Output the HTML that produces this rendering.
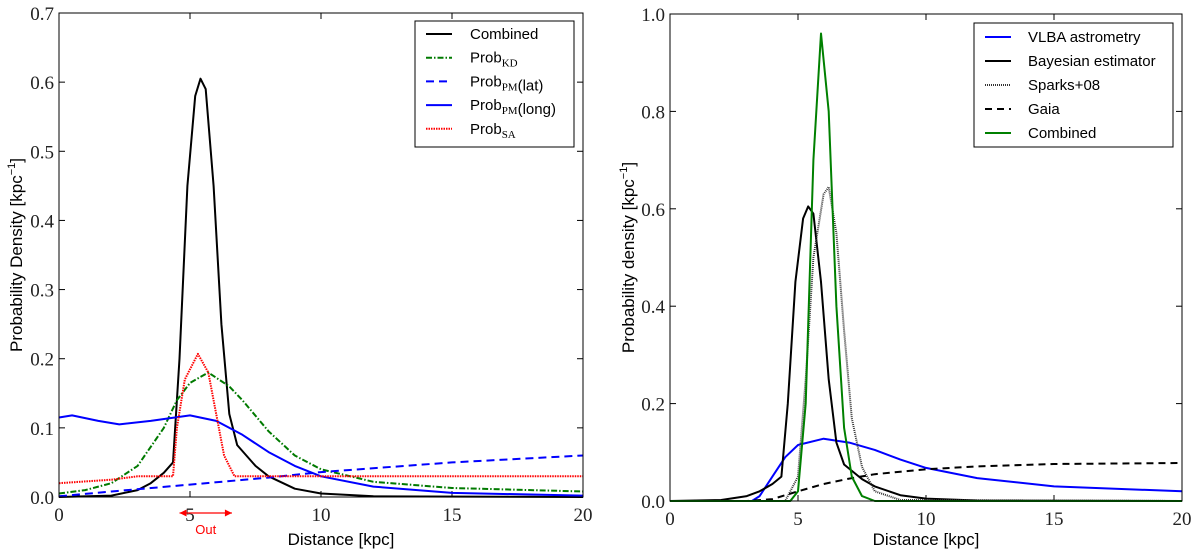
<!DOCTYPE html>
<html><head><meta charset="utf-8"><style>
body{margin:0;background:#fff}
svg{display:block}
.tick{font-family:"Liberation Serif",serif;font-size:19px;fill:#222}
.lab{font-family:"Liberation Sans",sans-serif;font-size:17px;fill:#000}
.leg{font-family:"Liberation Sans",sans-serif;font-size:15px;fill:#000}
</style></head><body>
<svg id="fig" width="1200" height="553" viewBox="0 0 1200 553"></svg>
<script>
// Left panel data
const lCombX=[0,2,3,3.5,4,4.35,4.6,4.9,5.2,5.4,5.6,5.9,6.2,6.5,6.8,7.5,8,9,10,12,20];
const lCombY=[0,0.002,0.01,0.02,0.035,0.05,0.2,0.45,0.58,0.605,0.59,0.45,0.25,0.12,0.075,0.045,0.03,0.012,0.005,0.001,0];
const lKDX=[0,1,2,3,4,4.5,5,5.7,6.5,7,8,9,10,12,15,20];
const lKDY=[0.005,0.01,0.02,0.045,0.1,0.14,0.165,0.18,0.16,0.14,0.095,0.06,0.04,0.022,0.013,0.008];
const lLatX=[0,2,5,8,10,15,20];
const lLatY=[0.001,0.008,0.018,0.028,0.036,0.05,0.06];
const lLongX=[0,0.5,1.5,2.3,3.5,5,6,7,8,9,10,12,15,20];
const lLongY=[0.115,0.118,0.11,0.105,0.11,0.118,0.11,0.09,0.065,0.045,0.03,0.015,0.006,0.002];
const lSAX=[0,2,3,4.35,4.5,4.8,5.3,5.7,6,6.3,6.7,20];
const lSAY=[0.02,0.025,0.03,0.03,0.1,0.17,0.207,0.18,0.12,0.06,0.03,0.03];
// Right panel data
const rVlbaX=[0,3.2,3.5,4,4.5,5,6,7,8,9,10,12,15,20];
const rVlbaY=[0,0,0.01,0.05,0.09,0.115,0.128,0.12,0.105,0.085,0.068,0.047,0.03,0.02];
const rSparksX=[0,4.5,5,5.3,5.6,6,6.2,6.5,6.8,7.1,7.5,8,9,20];
const rSparksY=[0,0,0.05,0.25,0.5,0.63,0.645,0.55,0.35,0.17,0.07,0.02,0.002,0];
const rGaiaX=[0,3,4,5,6,7,8,10,12,15,20];
const rGaiaY=[0,0,0.004,0.02,0.035,0.046,0.055,0.065,0.071,0.076,0.078];
const rCombX=[0,4.7,5,5.3,5.6,5.9,6.2,6.5,6.8,7.1,7.5,8,20];
const rCombY=[0,0,0.02,0.2,0.7,0.96,0.8,0.4,0.15,0.05,0.01,0,0];
const xTicks=[0,5,10,15,20];
const lYTicks=[0,0.1,0.2,0.3,0.4,0.5,0.6,0.7];
const rYTicks=[0,0.2,0.4,0.6,0.8,1.0];

const NS="http://www.w3.org/2000/svg";
const svg=document.getElementById('fig');
function mk(tag,attrs,parent){const e=document.createElementNS(NS,tag);for(const k in attrs)e.setAttribute(k,attrs[k]);(parent||svg).appendChild(e);return e;}

function panel(P){
  const g=mk('g',{});
  
  
  const sx=v=>P.x0+(P.x1-P.x0)*v/20;
  const sy=v=>P.y0-(P.y0-P.y1)*v/P.ymax;
  xTicks.forEach(t=>{
    const X=sx(t);
    mk('line',{x1:X,x2:X,y1:P.y0,y2:P.y0-6,stroke:'#000','stroke-width':1},g);
    mk('line',{x1:X,x2:X,y1:P.y1,y2:P.y1+6,stroke:'#000','stroke-width':1},g);
    const tx=mk('text',{x:X,y:P.y0+24,'text-anchor':'middle',class:'tick'},g);
    tx.textContent=t;
    
    
  });
  P.yt.forEach(t=>{
    const Y=sy(t);
    mk('line',{x1:P.x0,x2:P.x0+6,y1:Y,y2:Y,stroke:'#000','stroke-width':1},g);
    mk('line',{x1:P.x1,x2:P.x1-6,y1:Y,y2:Y,stroke:'#000','stroke-width':1},g);
    const tx=mk('text',{x:P.x0-5,y:Y+7,'text-anchor':'end',class:'tick'},g);
    tx.textContent=t.toFixed(1);
    
    
  });
  P.series.forEach(s=>{
    const pts=s.x.map((v,i)=>sx(v).toFixed(1)+','+sy(s.y[i]).toFixed(1)).join(' ');
    const pl=mk('polyline',{points:pts,fill:'none',stroke:s.c,'stroke-width':s.w||2,'stroke-dasharray':s.d||'none','stroke-linejoin':'round'},g);
    
    
  });
  const fr=mk('rect',{x:P.x0,y:P.y1,width:P.x1-P.x0,height:P.y0-P.y1,fill:'none',stroke:'#000','stroke-width':1},g);
  
  
  const xl=mk('text',{x:(P.x0+P.x1)/2+P.xlOff,y:545,'text-anchor':'middle',class:'lab'},g);
  xl.textContent='Distance [kpc]';
  
  
  const yl=mk('text',{transform:`translate(${P.ylx},${(P.y0+P.y1)/2}) rotate(-90)`,'text-anchor':'middle',class:'lab'},g);
  yl.innerHTML=P.ylab;
  
  
  const L=P.leg;
  const lb=mk('rect',{x:L.x,y:L.y,width:L.w,height:L.h,fill:'#fff',stroke:'#000','stroke-width':1},g);
  
  
  P.series.forEach((s,i)=>{
    const Y=L.y+L.first+i*L.step;
    mk('line',{x1:L.x+11,x2:L.x+37,y1:Y,y2:Y,stroke:s.c,'stroke-width':s.w||2,'stroke-dasharray':s.d||'none'},g);
    const t=mk('text',{x:L.x+L.tx,y:Y+5,class:'leg'},g);
    t.innerHTML=s.lab;
    
    
  });
  return {sx,sy,g};
}
const sub=s=>`Prob<tspan font-family="Liberation Serif" font-size="11" dy="4">${s}</tspan><tspan dy="-4"></tspan>`;
const L=panel({name:'left-panel',x0:59,x1:583,y0:497,y1:13,ymax:0.7,yt:lYTicks,xlOff:20,ylx:22,
  ylab:'Probability Density [kpc<tspan font-size="11" dy="-7">−1</tspan><tspan dy="7">]</tspan>',
  leg:{x:415,y:21,w:159,h:126,tx:55,first:13,step:23.7},
  series:[
    {n:'combined-line',x:lCombX,y:lCombY,c:'#000',lab:'Combined'},
    {n:'prob-kd-line',x:lKDX,y:lKDY,c:'#007a00',d:'6,2,1.5,2',lab:sub('KD')},
    {n:'prob-pm-lat-line',x:lLatX,y:lLatY,c:'#0000ff',d:'8,5',lab:sub('PM')+'(lat)'},
    {n:'prob-pm-long-line',x:lLongX,y:lLongY,c:'#0000ff',lab:sub('PM')+'(long)'},
    {n:'prob-sa-line',x:lSAX,y:lSAY,c:'#ff0000',d:'1.5,1',lab:sub('SA')}
  ]});
const ax1=L.sx(4.6),ax2=L.sx(6.6);
const ar=mk('g',{});


mk('line',{x1:ax1,x2:ax2,y1:513,y2:513,stroke:'#f00','stroke-width':1.2},ar);
mk('path',{d:`M${ax1},513 l7,-3.5 v7 z M${ax2},513 l-7,-3.5 v7 z`,fill:'#f00'},ar);
const ot=mk('text',{x:(ax1+ax2)/2,y:534,'text-anchor':'middle','font-family':'Liberation Sans, sans-serif','font-size':'13',fill:'#f00'},ar);
ot.textContent='Out';

panel({name:'right-panel',x0:670,x1:1182,y0:501,y1:14,ymax:1.0,yt:rYTicks,xlOff:0,ylx:634,
  ylab:'Probability density [kpc<tspan font-size="11" dy="-7">−1</tspan><tspan dy="7">]</tspan>',
  leg:{x:974,y:23,w:199,h:124,tx:54,first:14,step:24},
  series:[
    {n:'vlba-astrometry-line',x:rVlbaX,y:rVlbaY,c:'#0000ff',lab:'VLBA astrometry'},
    {n:'bayesian-estimator-line',x:lCombX,y:lCombY,c:'#000',lab:'Bayesian estimator'},
    {n:'sparks-08-line',x:rSparksX,y:rSparksY,c:'#333',d:'1,1',lab:'Sparks+08'},
    {n:'gaia-line',x:rGaiaX,y:rGaiaY,c:'#000',d:'7,5',lab:'Gaia'},
    {n:'combined-line',x:rCombX,y:rCombY,c:'#008000',lab:'Combined'}
  ]});
</script>
</body></html>
